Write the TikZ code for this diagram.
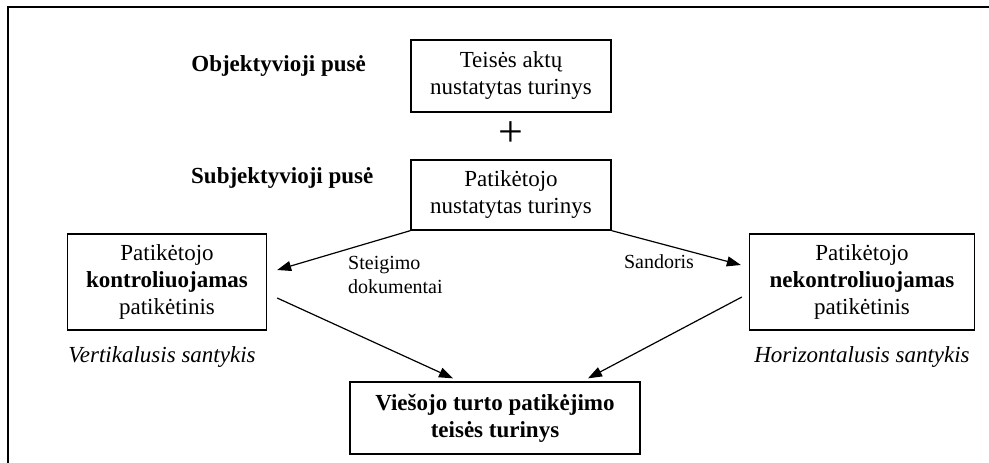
\documentclass[tikz,border=0pt]{standalone}
\usepackage{fontspec}
\setmainfont{Liberation Serif}
\usetikzlibrary{arrows.meta}
\begin{document}
\begin{tikzpicture}[x=1pt,y=-1pt,
  box/.style={draw, line width=1.3pt, inner sep=0pt, align=center,
    font=\fontsize{23}{27}\selectfont},
  side/.style={inner sep=0pt, font=\fontsize{23}{27}\selectfont\bfseries},
  rel/.style={inner sep=0pt, font=\fontsize{23}{27}\selectfont\itshape},
  lab/.style={inner sep=0pt, align=left, font=\fontsize{20}{24}\selectfont},
  arr/.style={line width=1.2pt, -{Triangle[length=14pt,width=10pt]}}]
\useasboundingbox (0,0) rectangle (989,463);
\draw[line width=2pt] (8,463) -- (8,7) -- (989,7);

\node[box, minimum width=200pt, minimum height=72pt] (A) at (511,76)
  {Teisės aktų\\nustatytas turinys};
\node[inner sep=0pt, font=\fontsize{44}{44}\selectfont] (plus) at (511,134) {+};
\node[box, minimum width=200pt, minimum height=70pt] (B) at (511,195)
  {Patikėtojo\\nustatytas turinys};
\node[side, anchor=east] (obj) at (366,66) {Objektyvioji pusė};
\node[side, anchor=west] (subj) at (191,178) {Subjektyvioji pusė};

\node[box, minimum width=199pt, minimum height=96pt] (C) at (167,282)
  {Patikėtojo\\\textbf{kontroliuojamas}\\patikėtinis};
\node[box, minimum width=225pt, minimum height=96pt] (D) at (862,282)
  {Patikėtojo\\\textbf{nekontroliuojamas}\\patikėtinis};
\node[rel] (vert) at (162,357) {Vertikalusis santykis};
\node[rel] (hor) at (862,357) {Horizontalusis santykis};

\node[box, minimum width=290pt, minimum height=72pt, font=\fontsize{23}{27}\selectfont\bfseries] (E) at (495,418)
  {Viešojo turto patikėjimo\\teisės turinys};

\node[lab, anchor=west] (steig) at (348,275) {Steigimo\\dokumentai};
\node[lab] (sand) at (659,262) {Sandoris};

\draw[arr] (B.south west) -- ([xshift=10pt,yshift=12pt]C.east);
\draw[arr] (B.south east) -- ([xshift=-8pt,yshift=17pt]D.west);
\draw[arr] ([xshift=10pt,yshift=-16pt]C.east) -- ([xshift=-42pt,yshift=3pt]E.north);
\draw[arr] ([xshift=-7pt,yshift=-15pt]D.west) -- ([xshift=93pt,yshift=3pt]E.north);
\end{tikzpicture}
\end{document}
